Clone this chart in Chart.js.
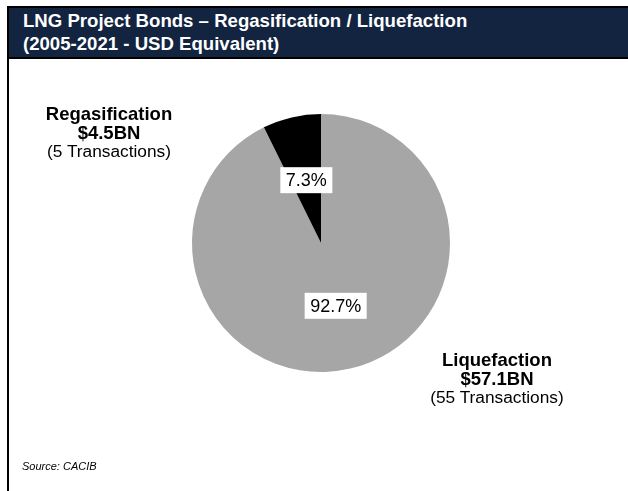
<!DOCTYPE html>
<html>
<head>
<meta charset="utf-8">
<script src="https://cdn.jsdelivr.net/npm/chart.js@4.4.0/dist/chart.umd.min.js"></script>
<style>
  body { margin: 0; width: 628px; height: 491px; background: #fff; position: relative; overflow: hidden;
         font-family: "Liberation Sans", Arial, sans-serif; }
  #header { position: absolute; left: 7px; top: 6px; width: 621px; height: 49px; background: #12243f;
            border-top: 2px solid #000; border-bottom: 2px solid #000; }
  #header div { position: absolute; left: 16px; color: #fff; font-weight: bold; font-size: 18.6px;
                line-height: 23px; white-space: nowrap; }
  #leftline { position: absolute; left: 7px; top: 6px; width: 2px; height: 485px; background: #000; }
  #wrap { position: absolute; left: 0; top: 59px; width: 628px; height: 432px; }
  .lbl { position: absolute; text-align: center; color: #000; font-size: 17.3px; line-height: 19px; white-space: nowrap; }
  .lbl b { display: block; font-size: 18.5px; }
  #source { position: absolute; left: 22px; top: 460px; font-size: 11px; font-style: italic; }
</style>
</head>
<body>
<div id="header">
  <div style="top:1px">LNG Project Bonds – Regasification / Liquefaction</div>
  <div style="top:24px">(2005-2021 - USD Equivalent)</div>
</div>
<div id="leftline"></div>
<div id="wrap"><canvas id="pieChart"></canvas></div>
<div class="lbl" style="left:19px; width:180px; top:104px;"><b>Regasification</b><b>$4.5BN</b>(5 Transactions)</div>
<div class="lbl" style="left:407px; width:180px; top:350px;"><b>Liquefaction</b><b>$57.1BN</b>(55 Transactions)</div>
<div id="source">Source: CACIB</div>
<script>
// Share of project bond volume (%)
const categories = ['Liquefaction', 'Regasification'];
const shares = [92.7, 7.3];
const sliceColors = ['#a6a6a6', '#000000'];

// Draws the boxed percentage in the middle of each slice
const boxLabels = {
  id: 'boxLabels',
  afterDatasetsDraw(chart) {
    const ctx = chart.ctx;
    const meta = chart.getDatasetMeta(0);
    ctx.save();
    ctx.font = '18px "Liberation Sans", Arial, sans-serif';
    ctx.textAlign = 'center';
    ctx.textBaseline = 'middle';
    meta.data.forEach((arc, i) => {
      const p = arc.getCenterPoint();
      const text = shares[i].toFixed(1) + '%';
      const w = ctx.measureText(text).width + 11;
      const h = 26;
      ctx.fillStyle = '#fff';
      ctx.fillRect(p.x - w / 2, p.y - h / 2, w, h);
      ctx.fillStyle = '#000';
      ctx.fillText(text, p.x, p.y + 1);
    });
    ctx.restore();
  }
};

new Chart(document.getElementById('pieChart').getContext('2d'), {
  type: 'pie',
  data: {
    labels: categories,
    datasets: [{
      data: shares,
      backgroundColor: sliceColors,
      borderWidth: 0
    }]
  },
  options: {
    responsive: true,
    maintainAspectRatio: false,
    animation: false,
    layout: { padding: { left: 192, right: 178, top: 55, bottom: 119 } },
    plugins: {
      legend: { display: false },
      tooltip: { enabled: false }
    }
  },
  plugins: [boxLabels]
});
</script>
</body>
</html>
